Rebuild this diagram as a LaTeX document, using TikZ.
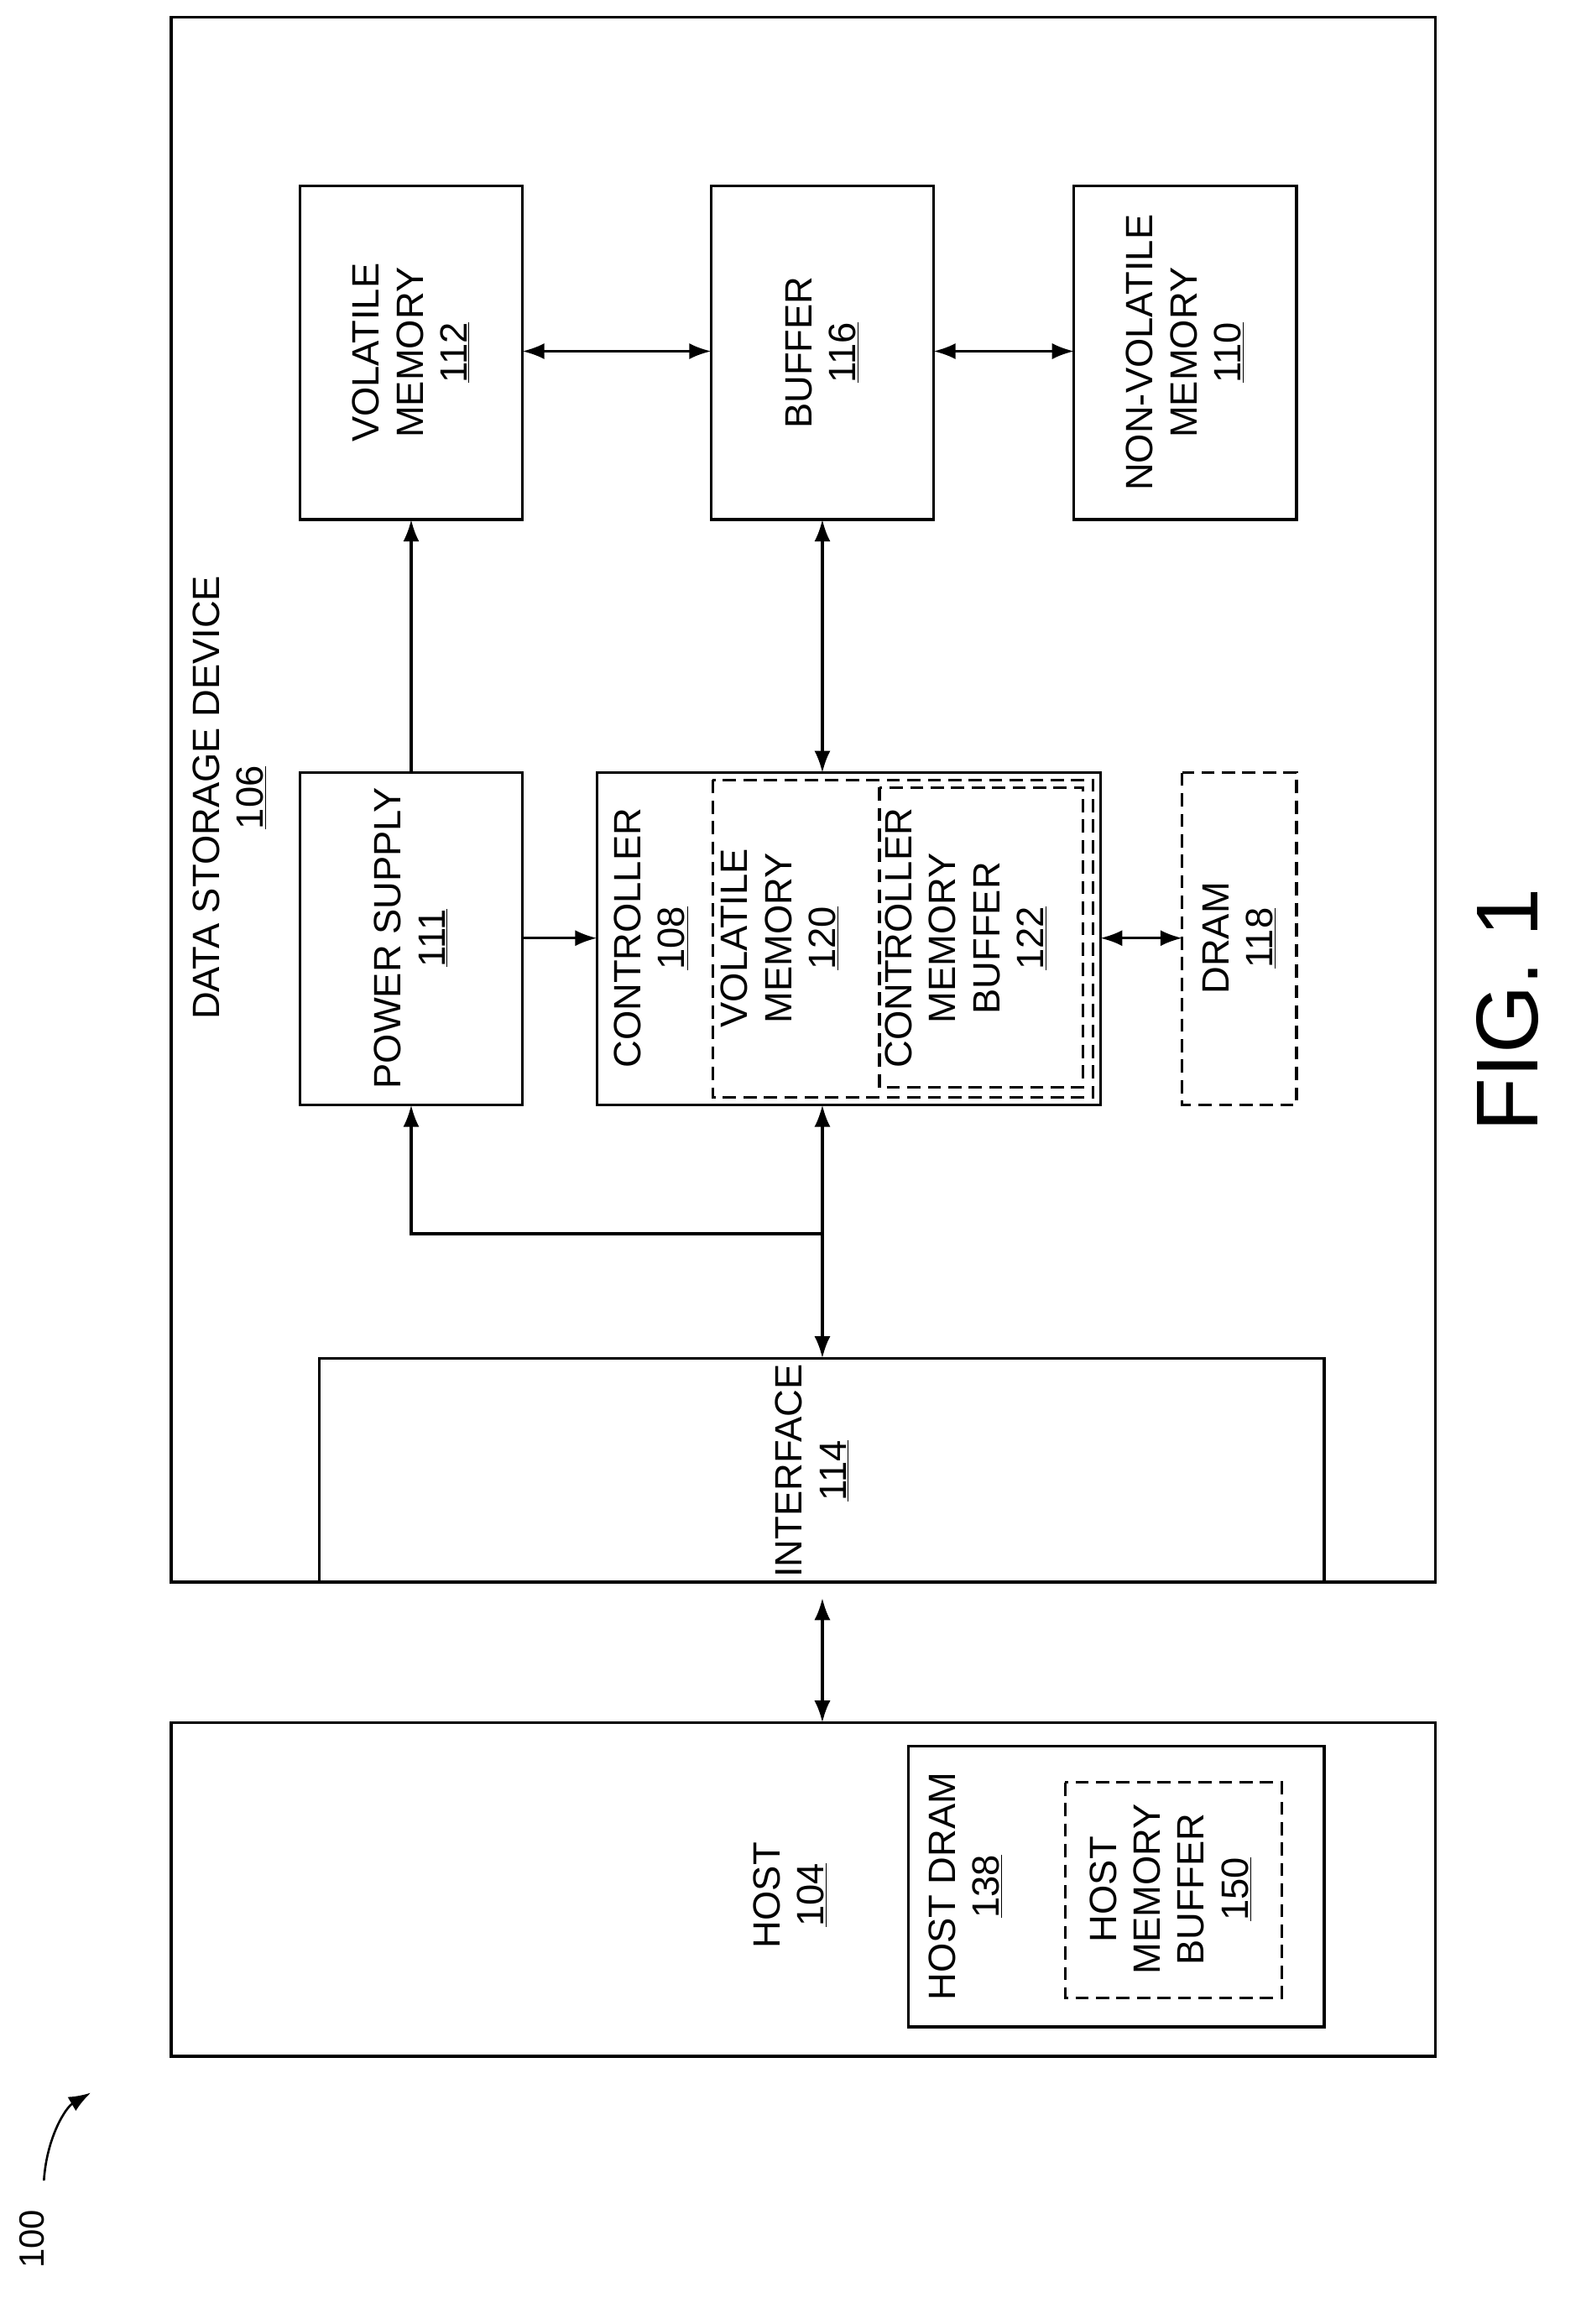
\documentclass[tikz,border=0pt]{standalone}
\usepackage{fontspec}
\setmainfont{Liberation Sans}
\usetikzlibrary{arrows.meta}
\begin{document}
\begin{tikzpicture}[x=1pt,y=-1pt,line width=1.8pt,
  box/.style={draw,rectangle},
  dbox/.style={draw,rectangle,dash pattern=on 9pt off 5pt},
  lbl/.style={rotate=90,align=center,font=\fontsize{26}{30}\selectfont},
  arr/.style={-{Latex[length=15pt,width=11pt]}},
  darr/.style={{Latex[length=15pt,width=11pt]}-{Latex[length=15pt,width=11pt]}}]
\useasboundingbox (0,0) rectangle (1080,1588);
% outer boxes
\draw (117,12) rectangle (981,1081);
\draw (117,1177) rectangle (981,1405);
\node[lbl] (dsd) at (157,545) {DATA STORAGE DEVICE\\\underline{106}};
% top row
\draw (205,127) rectangle (357,355); \node[lbl] (vm) at (281,241) {VOLATILE\\MEMORY\\\underline{112}};
\coordinate (vmR) at (357,240); \coordinate (vmB) at (281,355);
\draw (486,127) rectangle (638,355); \node[lbl] (buf) at (562,241) {BUFFER\\\underline{116}};
\coordinate (bufL) at (486,240); \coordinate (bufR) at (638,240); \coordinate (bufB) at (562,355);
\draw (734,127) rectangle (886,355); \node[lbl] (nvm) at (810,241) {NON-VOLATILE\\MEMORY\\\underline{110}};
\coordinate (nvmL) at (734,240);
% middle row
\draw (205,528) rectangle (357,755); \node[lbl] (ps) at (281,641) {POWER SUPPLY\\\underline{111}};
\coordinate (psT) at (281,528); \coordinate (psR) at (357,641); \coordinate (psB) at (281,755);
\draw (408,528) rectangle (752,755); \node[lbl] (ctl) at (445,641) {CONTROLLER\\\underline{108}};
\coordinate (ctlL) at (408,641); \coordinate (ctlT) at (562,528); \coordinate (ctlB) at (562,755); \coordinate (ctlR) at (752,641);
\draw[dbox] (487,533) rectangle (747,750);
\node[lbl] at (533,641) {VOLATILE\\MEMORY\\\underline{120}};
\draw[dbox] (601,538) rectangle (740,743);
\node[lbl] at (660,641) {CONTROLLER\\MEMORY\\BUFFER\\\underline{122}};
\draw[dbox] (808,528) rectangle (886,755); \node[lbl] (dram) at (847,641) {DRAM\\\underline{118}};
\coordinate (dramL) at (808,641);
% interface
\draw (218,1081) -- (218,928) -- (905,928) -- (905,1081);
\node[lbl] (if) at (555,1005) {INTERFACE\\\underline{114}};
\coordinate (ifT) at (562,928); \coordinate (ifB) at (562,1081);
% host
\node[lbl] (host) at (540,1295) {HOST\\\underline{104}};
\coordinate (hostT) at (562,1177);
\draw (621,1193) rectangle (905,1385); \node[lbl] at (660,1289) {HOST DRAM\\\underline{138}};
\draw[dbox] (728,1218) rectangle (876,1365); \node[lbl] at (800,1291) {HOST\\MEMORY\\BUFFER\\\underline{150}};
% connectors
\draw[darr] (vmR) -- (bufL);
\draw[darr] (bufR) -- (nvmL);
\draw[arr] (psT) -- (vmB);
\draw[darr] (bufB) -- (ctlT);
\draw[arr] (psR) -- (ctlL);
\draw[darr] (ctlR) -- (dramL);
\draw[darr] (ifT) -- (ctlB);
\coordinate (j) at (562,843);
\draw[arr] (j) -- (281,843) -- (psB);
\coordinate (ifB2) at (562,1092);
\draw[darr] (ifB2) -- (hostT);
% figure label
\node[rotate=90,font=\fontsize{60}{70}\selectfont] (fig) at (1030,690) {FIG. 1};
\node[rotate=90,font=\fontsize{24}{28}\selectfont] (ref) at (22,1530) {100};
\coordinate (refA) at (62,1430);
\draw[arr,line width=1.5pt] (30,1490) .. controls (32,1460) and (45,1440) .. (refA);
\end{tikzpicture}
\end{document}
